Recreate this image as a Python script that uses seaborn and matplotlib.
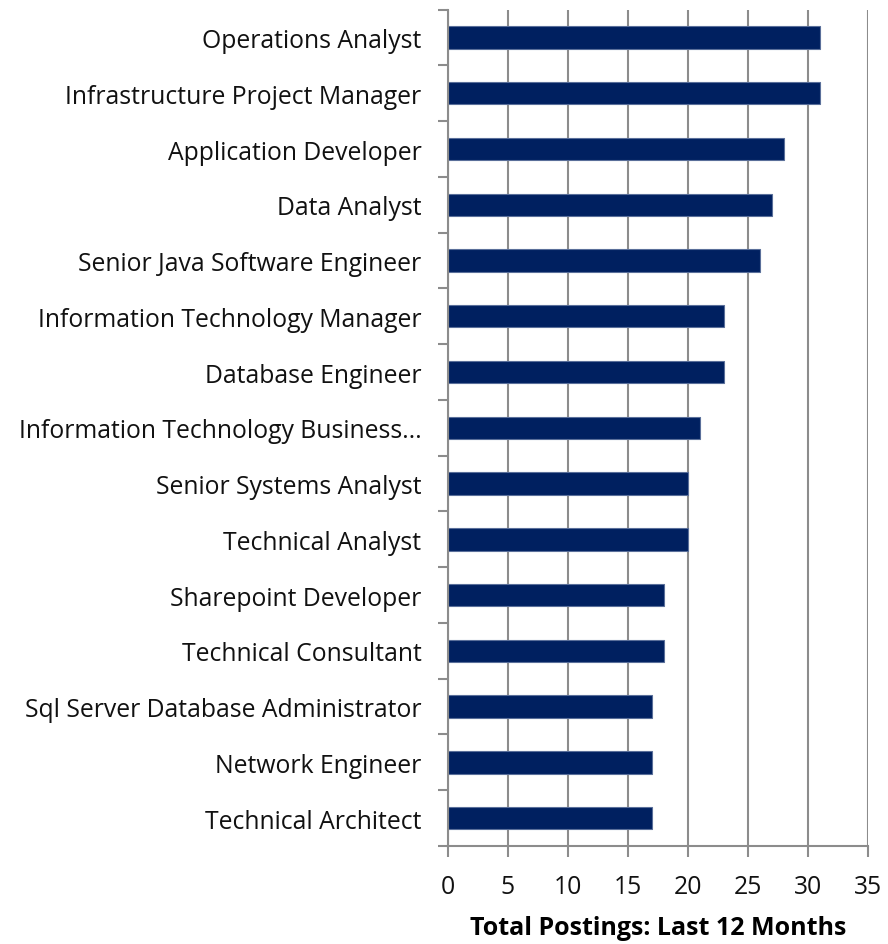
import matplotlib
matplotlib.use("Agg")
import matplotlib.pyplot as plt
import seaborn as sns
import pandas as pd
import numpy as np

titles = [
    "Operations Analyst",
    "Infrastructure Project Manager",
    "Application Developer",
    "Data Analyst",
    "Senior Java Software Engineer",
    "Information Technology Manager",
    "Database Engineer",
    "Information Technology Business...",
    "Senior Systems Analyst",
    "Technical Analyst",
    "Sharepoint Developer",
    "Technical Consultant",
    "Sql Server Database Administrator",
    "Network Engineer",
    "Technical Architect",
]
postings = [31, 31, 28, 27, 26, 23, 23, 21, 20, 20, 18, 18, 17, 17, 17]
x_ticks = [0, 5, 10, 15, 20, 25, 30, 35]
x_label = "Total Postings: Last 12 Months"

df = pd.DataFrame({"title": titles, "postings": postings})

sns.set_style("white")
plt.rcParams["font.family"] = ["Open Sans", "DejaVu Sans"]

fig = plt.figure(figsize=(8.88, 9.45), dpi=100)
ax = fig.add_axes([0.5045, 0.1037, 0.473, 0.885])

sns.barplot(data=df, x="postings", y="title", orient="h", color="#002060",
            width=0.4, edgecolor="#5a6f9a", linewidth=0.8, saturation=1, ax=ax)

n = len(titles)
ax.set_xlim(0, 35)
ax.set_ylim(n - 0.5, -0.5)
ax.set_xticks(x_ticks)
ax.set_xticklabels([str(t) for t in x_ticks], fontsize=17.8, color="#111111")
ax.set_yticks(range(n))
ax.set_yticklabels(titles, fontsize=17.8, color="#111111")
ax.tick_params(axis="y", which="major", left=True, length=0, pad=19)
ax.set_yticks(np.arange(-0.5, n, 1.0), minor=True)
ax.tick_params(axis="y", which="minor", left=True, length=7, width=1.5,
               color="#8c8c8c", direction="out")
ax.tick_params(axis="x", which="major", bottom=True, length=8, width=1.5,
               color="#8c8c8c", direction="out", pad=12)

ax.grid(axis="x", color="#8c8c8c", linewidth=1.5)
ax.set_axisbelow(True)
for s in ["top", "right"]:
    ax.spines[s].set_visible(False)
for s in ["left", "bottom"]:
    ax.spines[s].set_color("#8c8c8c")
    ax.spines[s].set_linewidth(1.5)

ax.set_ylabel("")
ax.set_xlabel(x_label, fontsize=18, fontweight="bold", labelpad=12, color="#000000")

fig.savefig("out.png", dpi=100)
